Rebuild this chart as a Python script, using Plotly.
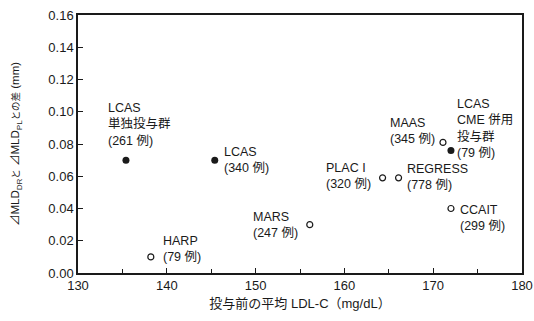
import plotly.graph_objects as go

# Trials: mean baseline LDL-C vs. difference in ΔMLD (drug minus placebo)
studies = ["LCAS\n単独投与群", "LCAS", "HARP", "MARS", "PLAC I", "REGRESS", "MAAS", "LCAS\nCME 併用\n投与群", "CCAIT"]
patients = [261, 340, 79, 247, 320, 778, 345, 79, 299]
ldl_baseline = [135.4, 145.4, 138.2, 156.1, 164.3, 166.1, 171.1, 172.0, 172.0]
mld_difference = [0.070, 0.070, 0.010, 0.030, 0.059, 0.059, 0.081, 0.076, 0.040]
filled = [True, True, False, False, False, False, False, True, False]

# label placement relative to each point, in pixels: (x shift, y shift, side)
label_offsets = [(-20, 36, "left"), (7, 0, "left"), (10, 8, "left"), (-10, 0, "right"),
                 (-10, 2, "right"), (6, 1, "left"), (-6, 11, "right"), (4, 22, "left"),
                 (7, -9, "left")]

FONT = "Liberation Sans, Arial, Noto Sans CJK JP, sans-serif"
INK = "#1a1a1a"

fig = go.Figure()

solid_x = [x for x, f in zip(ldl_baseline, filled) if f]
solid_y = [y for y, f in zip(mld_difference, filled) if f]
open_x = [x for x, f in zip(ldl_baseline, filled) if not f]
open_y = [y for y, f in zip(mld_difference, filled) if not f]

fig.add_trace(go.Scatter(x=solid_x, y=solid_y, mode="markers",
                         marker=dict(symbol="circle", size=7, color=INK),
                         showlegend=False, hoverinfo="skip"))
fig.add_trace(go.Scatter(x=open_x, y=open_y, mode="markers",
                         marker=dict(symbol="circle-open", size=6, color=INK,
                                     line=dict(width=1.2, color=INK)),
                         showlegend=False, hoverinfo="skip"))

for name, n, x, y, (dx, dy, side) in zip(studies, patients, ldl_baseline,
                                          mld_difference, label_offsets):
    text = name.replace("\n", "<br>") + f"<br>({n} 例)"
    fig.add_annotation(x=x, y=y, xref="x", yref="y", text=text, showarrow=False,
                       xanchor=side, yanchor="middle", align="left",
                       xshift=dx, yshift=dy,
                       font=dict(family=FONT, size=12.5, color=INK))


def small(s):
    return f'<span style="font-size:9.5px">{s}</span>'


y_title = ("⊿MLD<sub>DR</sub>" + small("と") + " ⊿MLD<sub>PL</sub>"
           + small("との差") + " (mm)")

fig.update_xaxes(range=[130, 180], dtick=10, tick0=130,
                 ticks="inside", ticklen=5, tickwidth=1, tickcolor=INK,
                 minor=dict(dtick=5, ticks="inside", ticklen=4, tickcolor=INK),
                 showline=True, linecolor=INK, linewidth=1.5, mirror=True,
                 showgrid=False, zeroline=False,
                 tickfont=dict(family=FONT, size=13, color=INK),
                 title=dict(text="投与前の平均 LDL-C（mg/dL）", standoff=7,
                            font=dict(family=FONT, size=13, color=INK)))
fig.update_yaxes(range=[0, 0.16], dtick=0.02, tick0=0, tickformat=".2f",
                 ticks="inside", ticklen=5, tickwidth=1, tickcolor=INK,
                 showline=True, linecolor=INK, linewidth=1.5, mirror=True,
                 showgrid=False, zeroline=False,
                 tickfont=dict(family=FONT, size=13, color=INK),
                 title=dict(text=y_title, standoff=26,
                            font=dict(family=FONT, size=11.5, color=INK)))

fig.update_layout(width=534, height=321,
                  margin=dict(l=78, r=12, t=15, b=48, autoexpand=False),
                  paper_bgcolor="white", plot_bgcolor="white")

fig.write_html("out.html")
